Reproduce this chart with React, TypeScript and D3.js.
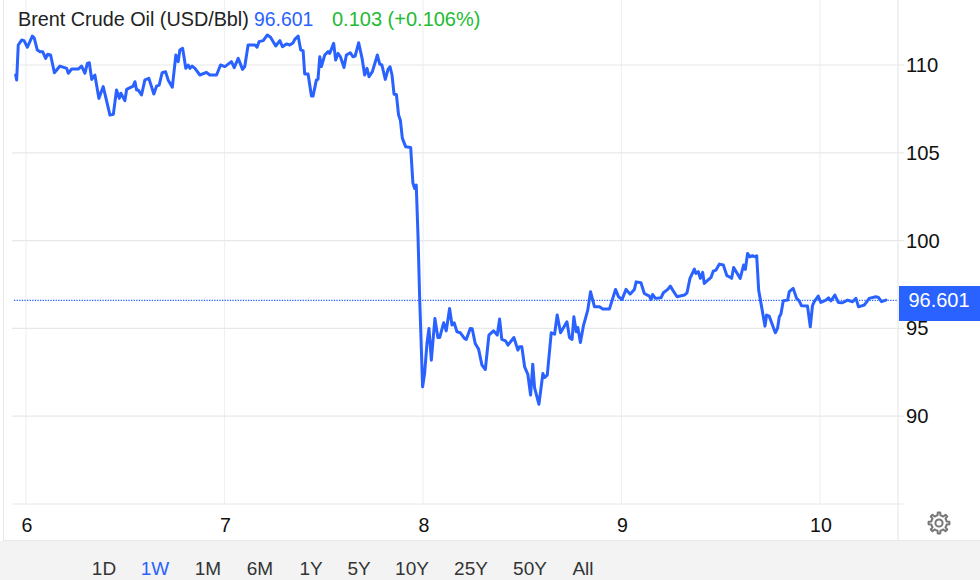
import React from "react";
import * as d3 from "d3";

const days = [5.948,5.953,5.961,5.978,5.990,6.007,6.032,6.042,6.057,6.070,6.084,6.099,6.109,6.124,6.143,6.171,6.205,6.213,6.230,6.263,6.280,6.297,6.309,6.319,6.331,6.347,6.367,6.389,6.423,6.440,6.456,6.470,6.478,6.498,6.507,6.540,6.549,6.557,6.565,6.582,6.599,6.619,6.644,6.658,6.671,6.686,6.703,6.716,6.737,6.755,6.767,6.775,6.789,6.805,6.817,6.826,6.837,6.851,6.876,6.909,6.926,6.960,6.980,7.002,7.035,7.049,7.069,7.091,7.102,7.119,7.153,7.164,7.174,7.195,7.216,7.232,7.258,7.279,7.292,7.312,7.329,7.346,7.354,7.371,7.384,7.396,7.404,7.421,7.438,7.446,7.463,7.471,7.480,7.488,7.505,7.522,
7.530,7.550,7.560,7.572,7.584,7.602,7.614,7.634,7.647,7.658,7.676,7.693,7.706,7.718,7.728,7.745,7.770,7.782,7.793,7.810,7.824,7.834,7.844,7.854,7.866,7.877,7.886,7.896,7.913,7.938,7.949,7.958,7.966,7.975,7.983,7.998,8.008,8.020,8.030,8.042,8.060,8.075,8.084,8.104,8.117,8.134,8.146,8.157,8.171,8.188,8.209,8.218,8.238,8.248,8.263,8.280,8.297,8.314,8.332,8.355,8.374,8.386,8.397,8.416,8.428,8.458,8.478,8.486,8.498,8.512,8.528,8.542,8.553,8.562,8.584,8.604,8.612,8.626,8.646,8.663,8.676,8.693,8.725,8.738,8.751,8.760,8.772,8.780,8.793,8.809,8.830,8.844,8.864,8.889,8.906,8.939,8.970,8.985,9.003,9.023,9.043,9.065,9.074,
9.098,9.115,9.140,9.149,9.157,9.171,9.199,9.211,9.233,9.246,9.258,9.280,9.317,9.330,9.345,9.367,9.375,9.387,9.397,9.409,9.417,9.451,9.462,9.476,9.493,9.513,9.531,9.543,9.555,9.565,9.598,9.615,9.624,9.635,9.647,9.660,9.671,9.681,9.691,9.723,9.731,9.744,9.775,9.786,9.795,9.803,9.815,9.837,9.845,9.865,9.882,9.895,9.907,9.937,9.951,9.962,9.971,9.991,10.004,10.030,10.043,10.055,10.075,10.092,10.113,10.139,10.164,10.181,10.194,10.206,10.223,10.248,10.281,10.295,10.310,10.332];

const prices = [109.43,109.15,111.14,111.42,111.39,111.01,111.65,111.52,110.85,110.76,110.76,110.38,110.61,110.57,109.56,109.94,109.81,109.53,109.77,109.77,109.94,109.53,110.09,110.13,109.18,109.43,108.10,108.77,107.15,107.19,108.58,108.10,108.39,107.97,108.61,108.80,109.05,108.58,108.58,108.29,109.15,109.24,108.35,108.80,108.86,109.56,109.62,109.15,108.73,110.57,110.19,110.85,110.95,109.81,110.00,109.81,109.94,109.81,109.43,109.58,109.43,109.43,110.00,109.91,110.19,109.85,110.38,109.75,109.91,111.14,111.14,111.01,111.33,111.39,111.71,111.58,111.08,111.39,111.04,111.20,111.14,111.27,111.46,111.65,110.85,110.82,109.49,109.49,108.23,108.23,109.15,109.18,110.47,109.91,110.57,110.76,
110.66,111.23,110.28,110.66,110.47,109.86,110.57,110.70,110.47,110.51,111.27,110.38,109.43,109.81,109.33,109.62,110.57,110.05,110.00,109.18,109.75,109.90,109.43,108.34,108.32,107.15,106.86,105.82,105.34,105.30,103.29,102.97,103.16,100.21,96.80,91.67,92.43,94.14,95.00,93.19,95.57,94.48,94.48,95.32,94.86,96.13,95.19,95.32,94.81,94.75,94.43,94.37,95.00,94.98,94.14,93.82,92.91,92.66,94.62,94.86,94.62,95.53,94.37,94.29,94.05,94.48,93.76,93.95,93.95,92.81,92.39,91.20,92.96,91.63,90.68,92.43,92.20,92.34,94.75,94.67,95.76,94.75,95.38,94.48,94.37,95.66,94.81,95.05,94.20,95.19,96.04,97.09,96.23,96.23,96.10,96.10,97.22,96.80,96.65,97.22,96.95,97.22,97.65,
97.60,96.99,96.84,96.65,96.93,96.71,96.74,97.03,97.22,97.41,97.18,96.80,96.90,97.03,97.85,98.38,98.13,98.23,97.85,98.19,97.56,97.90,98.26,98.32,98.66,98.61,98.00,97.94,97.85,98.47,97.85,98.61,98.36,99.27,99.08,99.14,99.08,99.14,97.18,95.13,95.76,95.70,94.75,95.00,95.66,95.81,96.57,96.61,97.09,97.28,96.71,96.57,96.29,96.27,95.09,96.29,96.52,96.84,96.48,96.61,96.74,96.57,96.90,96.48,96.46,96.61,96.52,96.71,96.23,96.27,96.33,96.71,96.80,96.76,96.52,96.61];

const yGridValues = [85, 90, 95, 100, 105, 110];
const yTickLabels = [90, 95, 100, 105, 110];
const xTickValues = [6, 7, 8, 9, 10];
const rangeButtons = ["1D", "1W", "1M", "6M", "1Y", "5Y", "10Y", "25Y", "50Y", "All"];
const buttonCentres = [104, 155, 208, 260, 311, 359, 412, 471, 530, 583];
const lastPrice = 96.601;
const titleName = "Brent Crude Oil (USD/Bbl)";
const titleChange = "0.103 (+0.106%)";

const BLUE = "#2962ff";
const GRID = "#e8e8e8";
const FONT = "'Liberation Sans', Arial, sans-serif";

function gearPath(cx: number, cy: number) {
  const teeth = 8, rOut = 10.5, rIn = 7.8;
  const pts: [number, number][] = [];
  for (let i = 0; i < teeth; i++) {
    const a = (i / teeth) * 2 * Math.PI - Math.PI / 2;
    const s = (2 * Math.PI) / teeth;
    [[-0.5, rIn], [-0.24, rIn], [-0.15, rOut], [0.15, rOut], [0.24, rIn]].forEach(([f, r]) => {
      const t = a + f * s;
      pts.push([cx + r * Math.cos(t), cy + r * Math.sin(t)]);
    });
  }
  return d3.line()(pts) + "Z";
}

export default function App() {
  const x = d3.scaleLinear().domain([6, 10]).range([26, 820]);
  const y = d3.scaleLinear().domain([85, 110]).range([504, 65]);
  const line = d3.line<number>()
    .x((d) => x(d))
    .y((_, i) => y(prices[i]));

  return (
    <svg width={980} height={580} style={{ position: "absolute", left: 0, top: 0, background: "#fff", fontFamily: FONT }}>
      <rect x={0} y={541} width={980} height={39} fill="#f3f3f3" />
      <line x1={3} x2={980} y1={540.5} y2={540.5} stroke={GRID} strokeWidth={1} />
      <line x1={3.5} x2={3.5} y1={0} y2={540} stroke={GRID} strokeWidth={1} />

      {xTickValues.map((v) => (
        <line key={v} x1={x(v)} x2={x(v)} y1={0} y2={504} stroke="#eef0f3" strokeWidth={1.2} />
      ))}
      {yGridValues.map((v) => (
        <line key={v} x1={12} x2={904} y1={y(v)} y2={y(v)} stroke={GRID} strokeWidth={1.2} />
      ))}
      <line x1={898} x2={898} y1={0} y2={540} stroke={GRID} strokeWidth={1.2} />

      <line x1={14} x2={898} y1={y(lastPrice)} y2={y(lastPrice)} stroke={BLUE} strokeWidth={1.2} strokeDasharray="1.3 1.3" />

      <path d={line(days) ?? ""} fill="none" stroke={BLUE} strokeWidth={3} strokeLinejoin="round" strokeLinecap="round" />

      <text x={18} y={26} fontSize={19.8} fill="#222">{titleName}</text>
      <text x={254} y={26} fontSize={19.4} fill={BLUE}>{lastPrice.toFixed(3)}</text>
      <text x={332} y={26} fontSize={20} fill="#22bb33">{titleChange}</text>

      {yTickLabels.map((v) => (
        <text key={v} x={906} y={y(v) + 7} fontSize={20.2} fill="#111">{v}</text>
      ))}

      <rect x={899} y={286} width={81} height={35} fill={BLUE} />
      <text x={939} y={y(lastPrice) + 7} fontSize={20} fill="#fff" textAnchor="middle">{lastPrice.toFixed(3)}</text>

      {xTickValues.map((v) => (
        <text key={v} x={x(v) + 1} y={532} fontSize={19.6} fill="#111" textAnchor="middle">{v}</text>
      ))}

      <path d={gearPath(939, 523)} fill="none" stroke="#777" strokeWidth={2} strokeLinejoin="round" />
      <circle cx={939} cy={523} r={3.6} fill="none" stroke="#777" strokeWidth={2} />

      {rangeButtons.map((b, i) => (
        <text key={b} x={buttonCentres[i]} y={575} fontSize={19} textAnchor="middle" fill={b === "1W" ? BLUE : "#333"}>{b}</text>
      ))}
    </svg>
  );
}
